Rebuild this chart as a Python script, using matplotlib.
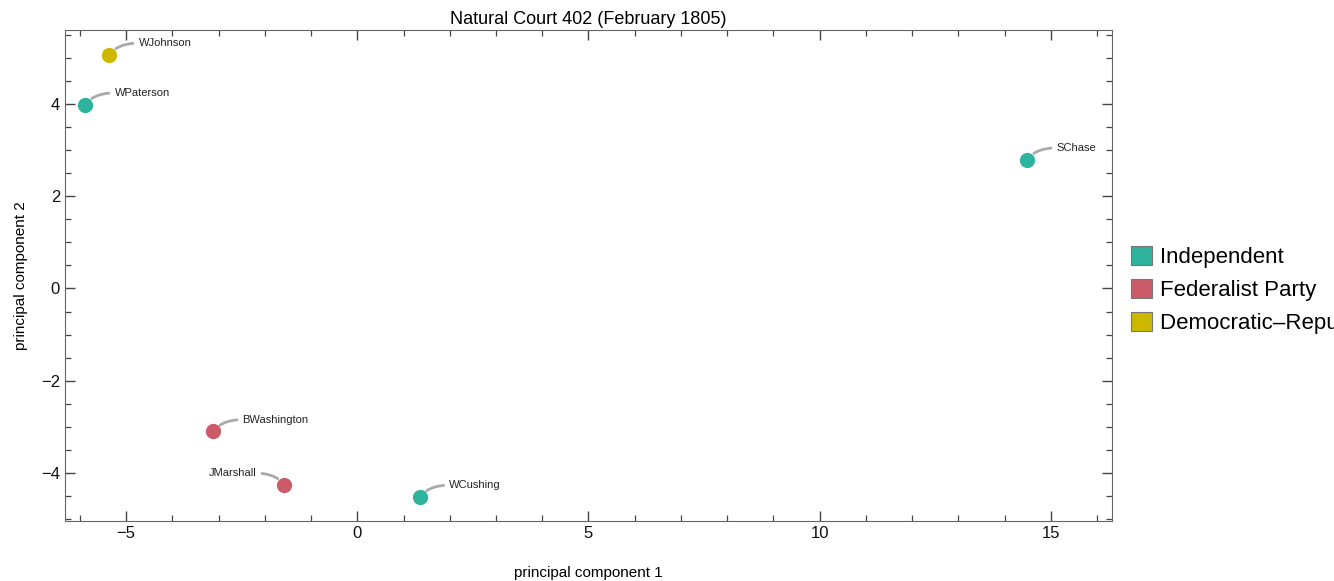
import matplotlib.pyplot as plt
from matplotlib.patches import Patch
from matplotlib.ticker import MultipleLocator

plt.rcParams['font.family'] = ['Liberation Sans', 'DejaVu Sans']

# data
justices = ['WJohnson', 'WPaterson', 'SChase', 'BWashington', 'JMarshall', 'WCushing']
pc1 = [-5.36, -5.88, 14.49, -3.11, -1.58, 1.36]
pc2 = [5.06, 3.98, 2.79, -3.10, -4.26, -4.52]
party = ['Democratic–Republican Party', 'Independent', 'Independent',
         'Federalist Party', 'Federalist Party', 'Independent']

parties = ['Independent', 'Federalist Party', 'Democratic–Republican Party']
colors = {'Independent': '#2db39e',
          'Federalist Party': '#cc5b6a',
          'Democratic–Republican Party': '#cdb800'}

fig = plt.figure(figsize=(13.34, 5.81), dpi=100)
ax = fig.add_axes([0.0487, 0.1033, 0.7849, 0.8450])

for x, y, p in zip(pc1, pc2, party):
    ax.plot(x, y, 'o', ms=11, color=colors[p], mec='none', zorder=3)

for name, x, y in zip(justices, pc1, pc2):
    if name == 'JMarshall':
        off, ha, rel, ang = (-20, 8.5), 'right', (1, 0.5), 125
    else:
        off, ha, rel, ang = (21, 8.5), 'left', (0, 0.5), 55
    ax.annotate(name, (x, y), xytext=off, textcoords='offset points',
                ha=ha, va='center', fontsize=8, color='#222222',
                arrowprops=dict(arrowstyle='-', color='#aaaaaa', lw=2,
                                shrinkA=2, shrinkB=6.5, relpos=rel,
                                connectionstyle=f'angle3,angleA=0,angleB={ang}'))

ax.set_xlim(-6.32, 16.32)
ax.set_ylim(-5.04, 5.6)
ax.xaxis.set_major_locator(MultipleLocator(5))
ax.xaxis.set_minor_locator(MultipleLocator(1))
ax.yaxis.set_major_locator(MultipleLocator(2))
ax.yaxis.set_minor_locator(MultipleLocator(0.5))
ax.tick_params(which='both', direction='in', top=True, right=True,
               color='#444444', labelsize=12, labelcolor='#111111')
ax.tick_params(which='major', length=7, width=1)
ax.tick_params(which='minor', length=4, width=0.9)
for s in ax.spines.values():
    s.set_color('#666666')

ax.set_title('Natural Court 402 (February 1805)', fontsize=13, pad=4)
ax.set_xlabel('principal component 1', fontsize=11, labelpad=18)
ax.set_ylabel('principal component 2', fontsize=11, labelpad=9)

handles = [Patch(facecolor=colors[p], edgecolor='#777777', lw=0.8, label=p) for p in parties]
ax.legend(handles=handles, loc='center left', bbox_to_anchor=(1.01, 0.47),
          frameon=False, fontsize=16, handlelength=0.95, handleheight=0.95,
          handletextpad=0.35, labelspacing=0.48, borderaxespad=0)

fig.savefig('out.png', dpi=100)
